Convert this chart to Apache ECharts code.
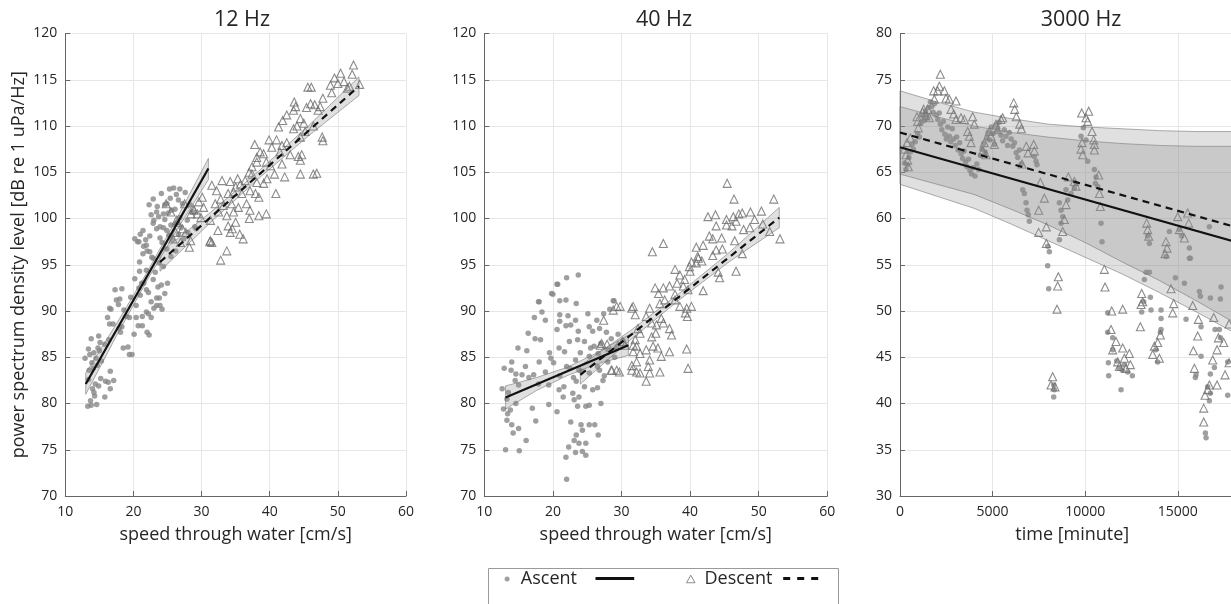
<!DOCTYPE html>
<html><head><meta charset="utf-8">
<script src="https://cdn.jsdelivr.net/npm/echarts@6/dist/echarts.min.js"></script>
<style>html,body{margin:0;padding:0;background:#fff;overflow:hidden}#c{width:1231px;height:604px}</style>
</head><body><div id="c"></div>
<script>
const panelTitles = ['12 Hz', '40 Hz', '3000 Hz'];
const xNames = ['speed through water [cm/s]', 'speed through water [cm/s]', 'time [minute]'];
const yName = 'power spectrum density level [dB re 1 uPa/Hz]';
const legendNames = ['Ascent', 'Descent'];

// ---- 12 Hz ----
const p1Ascent = [[13.3,79.7],[13.8,79.8],[14.6,79.9],[13.7,80.3],[14.3,80.8],[15.8,80.7],[14.2,81.2],[14.0,81.6],[14.9,81.9],[14.4,82.1],[15.9,82.4],[16.3,82.3],[17.1,82.5],[13.4,82.6],[15.2,82.7],[16.6,81.6],[16.6,83.5],[13.5,83.6],[14.1,83.8],[14.7,84.1],[13.9,84.4],[14.5,84.9],[15.3,84.6],[12.9,84.9],[13.6,85.3],[14.2,85.5],[15.0,85.7],[13.4,85.9],[14.8,86.0],[15.1,86.6],[13.8,87.0],[14.9,87.3],[15.8,86.4],[16.4,86.9],[17.0,88.6],[16.7,90.2],[16.2,89.3],[17.9,88.1],[18.1,87.7],[17.8,90.7],
[18.5,86.0],[19.2,86.1],[19.4,85.3],[19.8,85.3],[20.1,87.5],[20.7,88.4],[21.3,88.4],[22.0,87.7],[22.3,87.4],[22.6,89.3],[21.9,89.9],[21.3,89.4],[20.4,89.3],[19.4,89.3],[18.6,90.1],[18.0,91.3],[18.3,92.4],[19.6,91.5],[20.4,90.6],[21.0,91.7],[20.8,92.5],[21.5,93.0],[22.2,92.0],[22.6,91.0],[23.0,90.3],[23.4,90.6],[23.8,91.4],[22.9,93.4],[23.6,92.6],[24.2,90.2],[24.1,92.8],[23.2,94.2],[21.9,94.4],[20.9,94.3],[20.2,93.5],[24.6,91.9],[25.0,93.0],[24.4,94.8],[23.8,95.2],[22.7,95.8],[22.0,96.5],[21.5,97.0],[20.8,97.5],[20.2,97.8],[21.0,98.3],[21.8,97.7],[22.4,98.1],[23.4,98.9],[24.2,97.4],[24.9,96.7],[25.5,95.9],[23.0,99.8],[23.7,100.2],[22.6,100.4],[22.3,101.5],[22.9,102.1],[23.5,101.3],[24.1,102.7],[24.6,101.5],[25.1,100.6],[25.4,102.2],[25.9,103.3],[26.3,102.6],[26.1,101.0],[25.5,99.3],[26.3,99.5],[26.8,100.1],[27.2,101.6],[27.6,102.8],[26.8,103.2],[28.3,101.5],[28.8,100.7],[29.0,99.1],[28.0,98.5],[27.4,97.8],[26.6,98.3],[27.9,99.8],[24.4,99.0],[23.9,97.9],[25.7,97.7],[26.2,96.5],[25.2,98.2],[24.6,99.9],[25.6,100.9],[27.0,99.0],[29.2,98.9],
[17.5,91.2],[17.3,92.3],[16.5,90.3],[16.5,88.6],[19.0,89.4],[18.3,88.3],[21.4,96.2],[22.4,96.4],[22.9,95.7],[20.9,95.3],[24.9,98.7],[21.4,98.7],[20.6,97.5],[21.9,97.1],[25.3,103.2],[24.9,101.6],[26.6,102.0],[23.4,100.7],[24.4,100.5],[23.9,99.1],[22.9,99.5],[21.2,93.0],[21.9,92.3],[23.4,91.4],[23.9,90.6],[22.2,89.7]];
const p1Descent = [[52.3,116.6],[50.4,115.7],[52.1,115.6],[49.5,115.2],[50.0,114.6],[48.9,114.4],[50.9,114.8],[53.2,114.5],[51.4,114.1],[51.7,114.3],[45.6,114.2],[46.1,114.2],[49.1,113.6],[47.8,113.0],[43.6,112.6],[43.8,112.1],[43.5,111.7],[45.4,112.0],[46.0,112.4],[46.6,112.3],[47.4,112.1],[47.1,111.7],[42.5,111.2],[41.9,110.6],[44.5,110.8],[45.0,110.3],[41.3,109.9],[43.5,109.7],[44.0,110.0],[46.4,110.0],[45.2,109.4],[44.5,108.8],[47.7,108.8],[47.8,108.4],[37.8,108.0],[39.9,108.5],[41.0,108.5],[41.8,107.9],[42.5,108.2],[40.3,107.7],[39.1,107.0],[38.1,106.6],[38.6,107.2],[41.5,107.2],[43.0,106.9],[44.2,106.7],[44.7,106.9],[44.5,106.3],[37.4,105.6],[38.1,106.1],[39.5,106.1],[40.1,105.7],[41.8,105.9],[40.7,104.8],[42.2,104.5],[44.5,104.8],[46.4,104.8],[46.9,104.9],[37.0,105.0],[37.4,104.8],[36.4,104.1],[33.0,104.1],[34.2,104.0],[35.3,104.3],[35.7,103.7],[35.0,103.4],[38.1,103.9],[39.1,103.8],[39.6,104.3],[31.5,103.6],[32.2,103.0],[32.8,102.1],[33.9,102.7],[34.7,102.9],[35.9,102.7],[37.1,103.0],[37.9,102.7],[38.4,102.3],[40.9,102.7],[30.1,102.3],[29.6,101.8],[30.3,101.2],[32.0,101.6],[33.2,101.4],[34.4,101.6],[35.4,101.2],[36.6,101.6],[37.1,100.9],[34.7,100.7],[33.7,100.3],[32.5,100.7],[37.0,100.0],[38.4,100.3],[39.5,100.5],[28.9,100.9],[28.4,100.5],[29.9,100.1],[31.3,99.8],[33.9,99.2],[34.5,98.9],[32.4,98.7],[34.2,98.5],[35.0,99.6],[31.3,97.6],[31.5,97.4],[35.6,98.3],[36.1,97.8],[33.7,96.5],[32.8,95.5],[28.4,97.6],[27.7,98.5],[26.2,98.5],[25.5,100.7],[24.8,101.6],[26.5,99.6],[27.5,101.6],[28.8,101.0],[29.4,100.5],[26.3,99.8],[27.2,98.9],[25.8,97.8],[26.9,97.4],[28.2,96.9],[31.2,97.5]];
const p1AscentFit = [[13.0,82.1],[31.0,105.4]];
const p1DescentFit = [[23.9,95.3],[53.1,114.3]];
const p1AscentBand = [[13.0,81.0,83.3],[17.5,87.3,88.6],[22.0,93.3,94.2],[26.5,98.9,100.2],[31.0,104.2,106.5]];
const p1DescentBand = [[23.9,94.3,96.3],[31.2,99.5,100.6],[38.5,104.4,105.2],[45.8,109.0,110.1],[53.1,113.3,115.3]];

// ---- 40 Hz ----
const p2Ascent = [[23.7,93.9],[22.0,93.6],[20.6,92.9],[19.8,91.9],[17.9,91.0],[21.0,91.1],[21.9,91.2],[23.4,90.8],[18.4,89.9],[17.3,89.3],[18.9,89.0],[21.0,89.6],[21.0,88.9],[22.2,89.5],[23.3,89.0],[25.1,89.7],[26.4,89.0],[27.4,89.7],[28.3,90.2],[28.9,91.1],[16.4,87.6],[17.4,87.0],[18.2,86.9],[14.9,86.0],[16.2,85.7],[20.6,88.0],[21.9,88.4],[22.6,88.5],[23.7,87.8],[25.3,88.3],[25.8,87.8],[26.8,88.1],[27.8,87.7],[23.6,86.9],[24.6,86.7],[22.4,86.7],[20.9,86.0],[21.7,85.6],[19.7,84.9],[20.1,84.4],[12.9,83.8],[13.9,83.6],[14.6,83.2],[15.5,83.1],[17.2,83.1],[18.9,83.4],[23.3,84.7],[25.3,85.1],[26.6,85.4],[28.0,85.8],[29.3,86.1],[22.5,83.8],[23.8,83.6],[25.3,83.3],[26.8,83.6],[27.3,82.5],[23.4,82.4],[24.6,81.8],[21.6,81.8],[20.9,81.5],[19.4,82.0],[17.9,82.1],[12.6,81.6],[13.5,81.2],[14.5,82.5],[12.8,79.4],[13.4,78.9],[13.3,78.2],[14.0,77.7],[15.0,77.3],[14.2,76.8],[17.5,78.1],[17.0,79.5],[19.4,79.9],[20.6,79.1],[21.5,80.7],[22.9,81.1],[23.8,80.7],[24.8,79.7],[25.3,79.8],[23.1,80.4],[23.6,79.7],[22.6,78.0],[24.1,77.7],[24.3,77.1],[25.3,77.7],[26.1,77.7],[26.6,76.6],[23.4,76.6],[23.1,76.0],[23.8,75.7],[22.3,75.3],[24.8,75.7],[24.3,74.8],[23.3,74.7],[24.8,74.4],[21.9,74.2],[13.1,75.0],[15.1,74.9],[16.1,76.0],[22.0,71.8],
[20.7,92.9],[18.0,91.0],[20.0,91.8],[26.0,86.2],[27.0,86.5],[28.5,87.0],[29.5,87.5],[30.2,86.8],[28.0,84.5],[29.0,85.0],[25.5,86.0],[24.0,85.5],[26.5,84.0],[27.5,83.0],[22.0,84.0],[21.0,83.0],[19.5,85.5],[18.0,84.5],[16.0,84.0],[14.0,84.5],[15.0,82.0],[16.5,82.8],[13.8,79.3],[13.3,80.5],[14.6,80.0],[23.0,82.8],[24.2,83.5],[25.8,81.5],[26.5,81.7],[27.0,80.0],[28.8,91.1]];
const p2Descent = [[45.4,103.8],[46.4,102.1],[52.2,102.1],[53.1,97.8],[34.5,96.4],[36.1,97.3],[42.6,100.2],[43.7,100.4],[45.3,99.9],[46.3,100.2],[47.1,100.5],[47.6,100.6],[48.8,100.7],[50.4,100.8],[49.4,99.9],[50.6,99.4],[46.7,99.7],[46.1,99.2],[43.8,99.2],[45.3,99.3],[47.8,98.8],[48.7,99.0],[51.6,98.6],[42.8,98.1],[43.3,97.8],[44.6,97.9],[40.9,96.9],[41.9,97.1],[43.8,96.6],[44.7,96.7],[46.5,97.6],[47.6,96.2],[43.3,96.0],[41.2,95.7],[41.7,95.4],[40.9,95.2],[39.9,94.8],[37.8,94.5],[38.5,93.9],[40.0,94.3],[44.1,94.2],[44.3,93.6],[46.7,94.3],[39.2,93.4],[37.0,92.7],[36.1,92.5],[38.1,93.0],[39.0,92.7],[39.7,92.3],[41.9,92.2],[34.9,92.5],[35.4,91.9],[35.6,90.8],[36.3,91.2],[37.8,91.2],[38.5,90.5],[39.3,89.8],[39.6,89.4],[40.2,90.5],[29.8,90.5],[28.8,90.1],[31.5,90.3],[32.0,89.6],[34.1,90.3],[33.6,89.4],[34.4,88.7],[35.1,88.5],[36.1,88.7],[37.0,88.1],[37.3,87.4],[32.4,88.1],[32.7,87.6],[34.4,87.2],[34.6,86.2],[33.6,85.8],[35.3,86.0],[37.0,85.6],[39.5,85.9],[32.2,86.2],[31.7,85.6],[32.7,85.4],[34.1,84.7],[35.8,85.1],[33.9,84.0],[35.6,83.4],[39.7,83.8],[32.2,84.5],[31.5,83.6],[32.7,83.3],[29.7,83.4],[28.5,83.6],[33.6,82.4],[34.1,83.3],[31.5,84.1],[35.0,87.6],[35.8,89.2],[39.5,90.3],[37.8,91.8],[41.1,95.9],[40.2,95.3],[30.2,86.7],[29.5,86.3],[30.5,86.3],[27.1,86.5],[27.9,86.4],[28.6,83.6],[29.3,90.5],[31.7,90.5],[32.0,86.9],[31.7,86.3],[29.3,83.6],[32.2,83.4],[27.4,89.0],[26.9,86.3]];
const p2AscentFit = [[13.1,80.65],[31.0,86.3]];
const p2DescentFit = [[24.0,83.1],[53.0,100.1]];
const p2AscentBand = [[13.1,79.4,81.9],[17.6,81.4,82.8],[22.05,83.0,83.9],[26.5,84.3,85.5],[31.0,85.2,87.4]];
const p2DescentBand = [[24.0,82.1,84.1],[31.25,86.85,87.85],[38.5,91.25,91.95],[45.75,95.35,96.35],[53.0,99.0,101.2]];

// ---- 3000 Hz ----
const p3Ascent = [[250,66.0],[320,65.3],[400,65.8],[480,66.6],[560,67.2],[650,68.0],[720,67.5],[820,68.3],[950,69.2],[1050,68.8],[1130,70.3],[1220,71.1],[1300,70.6],[1380,71.6],[1460,70.9],[1550,72.0],[1640,72.6],[1720,72.1],[1790,71.5],[1860,72.4],[1950,71.2],[2040,70.7],[2120,71.4],[2180,70.2],[2260,69.6],[2340,70.5],[2420,69.1],[2500,68.6],[2580,69.9],[2660,68.9],[2740,68.3],[2820,69.7],[2900,68.6],[2980,67.9],[3060,68.8],[3140,67.4],[3220,68.2],[3300,67.0],[3380,66.5],[3460,67.3],[3540,66.1],[3620,65.6],[3700,66.4],[3780,65.2],[3860,64.8],[3950,65.5],[4050,64.6],[4150,65.9],[4250,65.3],[4340,66.8],[4430,67.5],[4520,68.1],[4600,67.2],[4680,68.7],[4760,69.3],[4850,68.5],[4930,69.9],[5020,69.2],[5100,68.0],[5180,70.1],[5270,69.5],[5360,70.4],[5450,69.0],[5540,68.4],[5630,69.6],[5720,68.9],[5810,67.9],[5900,69.3],[6000,68.6],[6090,67.8],[6180,68.2],[6270,67.1],[6360,66.6],[6450,67.4],[6540,65.9],
[6624,63.1],[6714,62.7],[6804,61.7],[6858,60.9],[6930,60.4],[6984,59.7],[7254,66.7],[7344,66.2],[7398,65.8],[7974,57.0],[8064,56.4],[7974,54.9],[8028,52.4],[8298,42.0],[8334,41.5],[8298,40.7],[8604,61.7],[8694,60.9],[8784,60.2],[8694,59.5],[8604,57.7],[9054,62.0],[9234,62.7],[8964,63.1],[9504,63.8],[9414,63.3],[9774,68.9],[10044,68.5],[10134,66.2],[9900,69.8],[10494,65.3],[10584,64.5],[10548,63.8],[10674,63.5],[10854,59.5],[10908,57.5],
[11214,49.8],[11214,47.7],[11484,47.1],[11250,44.4],[11268,43.0],[11934,41.5],[11484,45.8],[11844,43.8],[12114,44.2],[12546,43.0],[12294,43.4],[11700,44.6],[12000,43.6],
[13194,53.4],[13464,54.2],[13284,54.2],[13518,51.5],[13554,50.1],[14094,49.2],[14094,50.1],[14094,48.0],[14058,47.7],[13158,51.0],[13050,49.9],[13824,45.8],[13914,44.5],[13374,58.1],[13464,57.3],[14364,55.9],[14544,58.6],[15084,58.8],[15210,58.1],[15624,56.8],[15624,55.7],[15678,55.7],[16704,59.1],
[14868,53.6],[15354,53.0],[16164,52.1],[16218,51.6],[16758,51.4],[17298,51.3],[17334,52.6],[15444,49.1],[16254,48.3],[17010,48.0],[17244,48.0],[17298,47.1],[16254,45.1],[16758,43.2],[16974,43.9],[16704,40.3],[16758,41.1],[16488,36.8],[16524,36.3],[15948,42.8],[15984,43.1],[17694,40.9],[17694,44.5],[16614,41.8]];
const p3Descent = [[2178,75.6],[2124,74.3],[2034,73.8],[1818,73.8],[2394,73.8],[2484,73.0],[2664,72.9],[3024,72.7],[1854,72.9],[1278,71.8],[1224,71.5],[1494,71.8],[1584,70.9],[1404,71.1],[918,71.0],[954,70.5],[990,69.8],[558,68.7],[378,68.2],[234,67.5],[324,66.9],[414,66.3],[450,65.6],[2754,71.8],[2898,71.3],[3024,70.7],[3294,70.9],[3474,70.7],[3924,71.0],[4014,70.2],[3654,69.4],[3744,68.9],[3834,68.2],[4554,68.2],[4464,67.3],[4644,66.9],[4824,69.4],[4914,68.9],[5094,68.0],[5184,70.2],[5274,69.6],[5454,70.7],[5544,70.9],[6138,72.5],[6192,71.8],[6282,71.0],[6462,70.2],[6552,69.7],[6822,67.8],[6912,67.1],[7218,68.0],[7254,67.3],[6588,65.9],[7578,63.9],[7794,62.2],[7488,60.9],[7902,59.1],[7488,58.5],[7902,57.3],[9090,64.5],[9414,64.0],[9504,63.5],[8964,61.5],[8874,59.9],[8784,58.6],[9810,71.4],[10044,70.9],[10188,71.6],[10134,70.5],[9828,68.2],[9774,67.5],[9864,66.9],[10368,69.4],[10458,68.5],[10494,68.0],[10494,67.4],[10728,64.7],[10764,62.7],[10818,61.3],[13320,59.5],[13374,58.8],[13428,58.1],[14364,57.5],[14418,56.8],[14310,56.2],[14994,60.2],[15534,60.6],[15588,59.5],[15084,58.8],[15354,57.9],
[8550,53.7],[8514,52.7],[8478,50.2],[8244,42.9],[8154,42.0],[8370,41.8],[11034,54.5],[11070,52.6],[11430,50.0],[12024,50.2],[11394,48.0],[11664,46.7],[12024,46.0],[12384,45.4],[11484,45.8],[11754,44.5],[12114,44.9],[12438,44.2],[11844,44.0],[12204,43.8],[13050,51.9],[13104,51.0],[13014,50.7],[12978,48.3],[13734,46.2],[13644,45.3],[14004,44.9],[14058,47.4],[13914,46.6],[14634,52.4],[14778,50.8],[14724,49.8],[15804,50.6],[16110,49.1],[16074,47.3],[15840,45.7],[15894,43.8],[16938,49.3],[17190,47.1],[17118,45.8],[17478,46.6],[16884,44.7],[16704,42.0],[16614,41.5],[16470,40.9],[17118,42.0],[16398,39.5],[16398,38.0],[17550,43.1],[17766,44.4],[17766,48.6]];
const p3AscentFit = [[0,67.7],[18600,57.2]];
const p3DescentFit = [[0,69.3],[18600,58.8]];
const p3AscentBand = [[0,63.7,72.1],[2000,62.4,71.0],[4000,61.1,70.0],[6000,59.4,69.3],[8000,57.6,68.8],[10000,55.8,68.4],[12000,54.0,68.1],[14000,52.0,67.9],[16000,49.9,67.8],[18000,47.7,67.8],[18600,47.0,67.8]];
const p3DescentBand = [[0,64.8,73.8],[2000,63.7,72.6],[4000,62.6,71.5],[6000,61.0,70.8],[8000,59.3,70.2],[10000,57.4,69.9],[12000,55.3,69.7],[14000,53.3,69.5],[16000,51.1,69.4],[18000,48.8,69.4],[18600,48.1,69.4]];

const FONT = "'Open Sans', 'Noto Sans', sans-serif";
const TXT = '#262626';
const AX = '#666666';

const panels = [
  {asc:p1Ascent, des:p1Descent, ascFit:p1AscentFit, desFit:p1DescentFit, ascBand:p1AscentBand, desBand:p1DescentBand, xmin:10, xmax:60, xint:10, ymin:70, ymax:120},
  {asc:p2Ascent, des:p2Descent, ascFit:p2AscentFit, desFit:p2DescentFit, ascBand:p2AscentBand, desBand:p2DescentBand, xmin:10, xmax:60, xint:10, ymin:70, ymax:120},
  {asc:p3Ascent, des:p3Descent, ascFit:p3AscentFit, desFit:p3DescentFit, ascBand:p3AscentBand, desBand:p3DescentBand, xmin:0, xmax:18600, xint:5000, ymin:30, ymax:80}
];
const gridBoxes = [
  {left:65.3, top:33.5, width:340.7, height:462.5},
  {left:484.3, top:33.5, width:343, height:462.5},
  {left:900, top:33.5, width:344.5, height:462.5}
];
const titleCenters = [242, 664, 1081];

function bandRenderer(band) {
  return function (params, api) {
    if (params.dataIndex !== 0) return;
    const up = band.map(d => api.coord([d[0], d[2]]));
    const lo = band.map(d => api.coord([d[0], d[1]])).reverse();
    return {
      type: 'polygon',
      shape: {points: up.concat(lo)},
      style: {fill: 'rgba(140,140,140,0.27)', stroke: 'rgba(110,110,110,0.7)', lineWidth: 0.8}
    };
  };
}

const grid = gridBoxes.map(g => Object.assign({outerBoundsMode: 'none', containLabel: false}, g));
const xAxis = panels.map((p, i) => ({
  type: 'value', gridIndex: i, min: p.xmin, max: p.xmax, interval: p.xint,
  name: xNames[i], nameLocation: 'middle', nameGap: 30,
  nameTextStyle: {fontSize: 18, color: TXT, fontFamily: FONT},
  axisLine: {show: true, onZero: false, lineStyle: {color: AX, width: 1}},
  axisTick: {show: true, inside: true, length: 5, lineStyle: {color: AX}},
  axisLabel: {margin: 9, fontSize: 14, color: TXT, fontFamily: FONT, showMaxLabel: i !== 2,
    formatter: v => String(v)},
  splitLine: {show: true, lineStyle: {color: '#e6e6e6', width: 1}}
}));
const yAxis = panels.map((p, i) => ({
  type: 'value', gridIndex: i, min: p.ymin, max: p.ymax, interval: 5,
  name: i === 0 ? yName : '', nameLocation: 'middle', nameGap: 37, nameRotate: 90,
  nameTextStyle: {fontSize: 18, color: TXT, fontFamily: FONT},
  axisLine: {show: true, onZero: false, lineStyle: {color: AX, width: 1}},
  axisTick: {show: true, inside: true, length: 5, lineStyle: {color: AX}},
  axisLabel: {margin: 8, fontSize: 14, color: TXT, fontFamily: FONT, formatter: v => String(v)},
  splitLine: {show: true, lineStyle: {color: '#e6e6e6', width: 1}}
}));

const series = [];
panels.forEach((p, i) => {
  series.push({type: 'scatter', name: legendNames[0], xAxisIndex: i, yAxisIndex: i, data: p.asc,
    symbol: 'circle', symbolSize: 5.5, itemStyle: {color: '#878787'}, z: 2, silent: true});
  series.push({type: 'scatter', name: legendNames[1], xAxisIndex: i, yAxisIndex: i, data: p.des,
    symbol: 'triangle', symbolSize: 8, itemStyle: {color: 'rgba(255,255,255,0)', borderColor: '#6e6e6e', borderWidth: 1.1}, z: 3, silent: true});
  series.push({type: 'custom', name: 'Ascent band', xAxisIndex: i, yAxisIndex: i, data: p.ascBand,
    encode: {x: 0, y: [1, 2]}, renderItem: bandRenderer(p.ascBand), z: 4, silent: true});
  series.push({type: 'custom', name: 'Descent band', xAxisIndex: i, yAxisIndex: i, data: p.desBand,
    encode: {x: 0, y: [1, 2]}, renderItem: bandRenderer(p.desBand), z: 4, silent: true});
  series.push({type: 'line', name: 'Ascent fit', xAxisIndex: i, yAxisIndex: i, data: p.ascFit,
    symbol: 'none', lineStyle: {color: '#111', width: 2.2}, itemStyle: {color: '#111'}, z: 5, silent: true});
  series.push({type: 'line', name: 'Descent fit', xAxisIndex: i, yAxisIndex: i, data: p.desFit,
    symbol: 'none', lineStyle: {color: '#111', width: 2.2, type: [7, 5]}, itemStyle: {color: '#111'}, z: 5, silent: true});
});

const legText = {fontSize: 18, color: TXT, fontFamily: FONT};
const legend = [
  {data: [{name: 'Ascent', icon: 'circle', itemStyle: {color: '#878787', borderWidth: 0}}],
   left: 504.6, top: 570, padding: 0, itemWidth: 17.4, itemHeight: 5, symbolKeepAspect: true, textStyle: legText, selectedMode: false, z: 10},
  {data: [{name: 'Ascent fit'}], formatter: () => '',
   left: 594, top: 577, padding: 0, itemWidth: 38.7, itemHeight: 3, selectedMode: false, z: 10,
   itemStyle: {color: 'rgba(0,0,0,0)', borderWidth: 0}, lineStyle: {color: '#111', width: 3, type: 'solid'}},
  {data: [{name: 'Descent', icon: 'triangle', itemStyle: {color: '#ffffff', borderColor: '#6e6e6e', borderWidth: 1}}],
   left: 686, top: 570, padding: 0, itemWidth: 8.5, itemHeight: 7.5, textStyle: Object.assign({padding: [0, 0, 0, 4.5]}, legText), selectedMode: false, z: 10},
  {data: [{name: 'Descent fit'}], formatter: () => '',
   left: 781.7, top: 577, padding: 0, itemWidth: 41.6, itemHeight: 3, selectedMode: false, z: 10,
   itemStyle: {color: 'rgba(0,0,0,0)', borderWidth: 0}, lineStyle: {color: '#111', width: 3, type: [7, 7]}}
];

const title = panelTitles.map((t, i) => ({
  text: t, left: titleCenters[i], top: 9, textAlign: 'center', padding: 0,
  textStyle: {fontSize: 21.5, fontWeight: 'normal', color: TXT, fontFamily: FONT}
}));

const chart = echarts.init(document.getElementById('c'), null, {renderer: 'canvas'});
chart.setOption({
  animation: false,
  backgroundColor: '#ffffff',
  title, grid, xAxis, yAxis, series, legend,
  graphic: [{type: 'rect', z: 0, silent: true, shape: {x: 488.5, y: 568.5, width: 350, height: 60},
    style: {fill: '#ffffff', stroke: '#9a9a9a', lineWidth: 1}}]
});
</script></body></html>
